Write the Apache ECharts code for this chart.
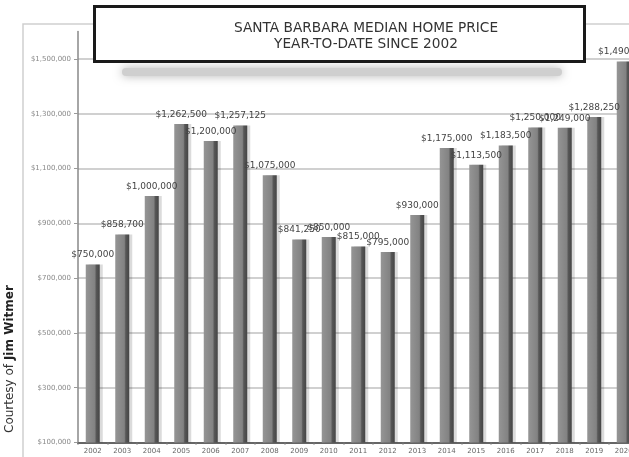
<!DOCTYPE html>
<html>
<head>
<meta charset="utf-8">
<script src="https://cdn.jsdelivr.net/npm/echarts@6/dist/echarts.min.js"></script>
<style>
html,body{margin:0;padding:0;background:#fff;}
#chart{width:629px;height:457px;}
</style>
</head>
<body>
<div id="chart"></div>
<script>
var years = ['2002','2003','2004','2005','2006','2007','2008','2009','2010','2011','2012','2013','2014','2015','2016','2017','2018','2019','2020'];
var medianPrice = [750000, 858700, 1000000, 1262500, 1200000, 1257125, 1075000, 841250, 850000, 815000, 795000, 930000, 1175000, 1113500, 1183500, 1250000, 1249000, 1288250, 1490800];
var yTicks = [100000, 300000, 500000, 700000, 900000, 1100000, 1300000, 1500000];
var titleLines = ['SANTA BARBARA MEDIAN HOME PRICE', 'YEAR-TO-DATE SINCE 2002'];

function money(v){
  return '$' + String(Math.round(v)).replace(/\B(?=(\d{3})+(?!\d))/g, ',');
}

var chart = echarts.init(document.getElementById('chart'), null, {renderer:'canvas'});
var option = {
  backgroundColor:'#ffffff',
  animation:false,
  grid:{left:78, top:31.5, width:560.5, height:411, containLabel:false, outerBoundsMode:'none'},
  xAxis:{
    type:'category',
    data:years,
    axisLine:{show:true, lineStyle:{color:'#666', width:2}},
    axisTick:{show:true, length:2, lineStyle:{color:'#777', width:1.5}},
    axisLabel:{color:'#666', fontSize:7, fontFamily:'DejaVu Sans', margin:5},
    splitLine:{show:false}
  },
  yAxis:{
    type:'value',
    min:yTicks[0],
    max:1600000,
    interval:200000,
    axisLine:{show:true, lineStyle:{color:'#888', width:1.5}},
    axisTick:{show:true, length:4, lineStyle:{color:'#999'}},
    axisLabel:{color:'#888', fontSize:7, fontFamily:'DejaVu Sans', margin:7,
      showMaxLabel:false,
      formatter:function(v){ return yTicks.indexOf(v) >= 0 ? money(v) : ''; }},
    splitLine:{show:true, showMaxLine:false, showMinLine:false, lineStyle:{color:'#d0d0d0', width:2}}
  },
  series:[{
    type:'bar',
    data:medianPrice,
    barWidth:14,
    itemStyle:{
      color:new echarts.graphic.LinearGradient(0,0,1,0,[
        {offset:0, color:'#959595'},
        {offset:0.65, color:'#828282'},
        {offset:0.75, color:'#575757'},
        {offset:1, color:'#454545'}
      ]),
      shadowColor:'rgba(0,0,0,0.14)',
      shadowOffsetX:3,
      shadowBlur:0
    },
    label:{
      show:true, position:'top', distance:5,
      color:'#444', fontSize:9, fontFamily:'DejaVu Sans',
      formatter:function(p){ return money(p.value); }
    }
  }],
  graphic:[
    {type:'rect', z:-1, silent:true, shape:{x:23, y:24, width:640, height:460},
     style:{fill:null, stroke:'#cfcfcf', lineWidth:1.5}},
    {type:'rect', z:100, silent:true, shape:{x:122, y:68, width:440, height:8, r:4},
     style:{fill:'#cfcfcf', shadowBlur:10, shadowColor:'rgba(0,0,0,0.3)'}},
    {type:'rect', z:101, silent:true, shape:{x:94.5, y:6.5, width:490, height:55},
     style:{fill:'#ffffff', stroke:'#1a1a1a', lineWidth:3}},
    {type:'text', z:102, silent:true, style:{
      x:366, y:28.5, text:titleLines[0], fill:'#333', font:'13.7px "DejaVu Sans"',
      textAlign:'center', textVerticalAlign:'middle'}},
    {type:'text', z:102, silent:true, style:{
      x:366, y:44.5, text:titleLines[1], fill:'#333', font:'13.7px "DejaVu Sans"',
      textAlign:'center', textVerticalAlign:'middle'}},
    {type:'text', z:102, silent:true, x:16, y:433, rotation:Math.PI/2,
     style:{
       text:'{a|Courtesy of }{b|Jim Witmer}',
       textAlign:'left', textVerticalAlign:'bottom',
       rich:{
         a:{fontSize:12, fontFamily:'DejaVu Sans', fontWeight:'normal', fill:'#333', color:'#333'},
         b:{fontSize:12, fontFamily:'DejaVu Sans', fontWeight:'bold', fill:'#222', color:'#222'}
       }
     }}
  ]
};
chart.setOption(option);
</script>
</body>
</html>
